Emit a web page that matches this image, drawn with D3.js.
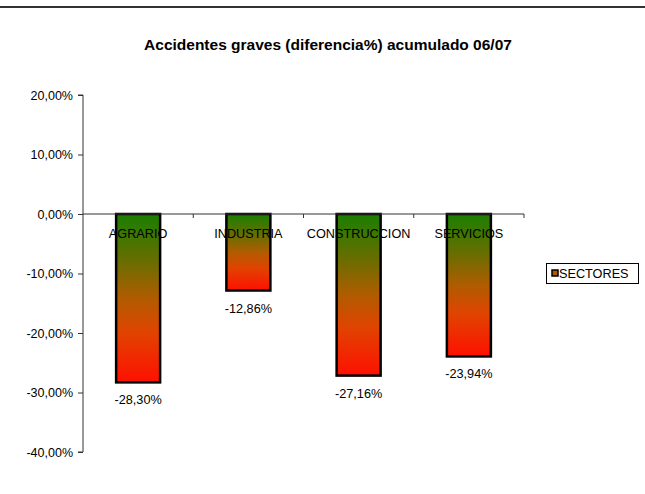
<!DOCTYPE html>
<html><head><meta charset="utf-8">
<script src="https://cdn.jsdelivr.net/npm/d3@7"></script>
<style>body{margin:0;background:#fff}svg{display:block;font-family:Arial,"Liberation Sans",sans-serif}</style>
</head><body>
<script>
const categories = ["AGRARIO","INDUSTRIA","CONSTRUCCION","SERVICIOS"];
const values = [-28.30,-12.86,-27.16,-23.94];
const yTicks = [20,10,0,-10,-20,-30,-40];
const seriesName = "SECTORES";
const title = "Accidentes graves (diferencia%) acumulado 06/07";

const W=645,H=494;
const svg=d3.select("body").append("svg").attr("width",W).attr("height",H);
const fmt = v => d3.format(".2f")(v).replace("\u2212","-").replace(".",",")+"%";

svg.append("line").attr("x1",0).attr("x2",W).attr("y1",7).attr("y2",7).attr("stroke","#333").attr("stroke-width",2);

svg.append("text").attr("x",328).attr("y",50).attr("text-anchor","middle")
  .attr("font-size",15.5).attr("font-weight","bold").text(title);

const x=d3.scaleBand().domain(categories).range([83,524]).paddingInner(0).paddingOuter(0);
const y=d3.scaleLinear().domain([-40,20]).range([452,95]);

const defs=svg.append("defs");
const g=defs.append("linearGradient").attr("id","grad").attr("x1",0).attr("y1",0).attr("x2",0).attr("y2",1);
[["0%","#1a7f00"],["30%","#6f6c00"],["50%","#b05c00"],["70%","#e04400"],["100%","#ff1000"]]
  .forEach(s=>g.append("stop").attr("offset",s[0]).attr("stop-color",s[1]));

// y axis
const ya=svg.append("g").attr("transform","translate(83,0)")
  .call(d3.axisLeft(y).tickValues(yTicks).tickSize(5).tickFormat(fmt));
ya.select(".domain").attr("stroke","#333").attr("d","M-5,"+y(20)+"H0V"+y(-40)+"H-5");
ya.selectAll(".tick line").attr("stroke","#333");
ya.selectAll("text").attr("font-size",12.5).attr("fill","#000").attr("x",-10).attr("font-family","Arial, Liberation Sans, sans-serif");

const barW=44;
svg.selectAll("rect.bar").data(values).join("rect").attr("class","bar")
  .attr("x",(d,i)=>x(categories[i])+x.bandwidth()/2-barW/2)
  .attr("y",d=>y(Math.max(0,d)))
  .attr("width",barW)
  .attr("height",d=>Math.abs(y(d)-y(0)))
  .attr("fill","url(#grad)").attr("stroke","#000").attr("stroke-width",2.5);

// x axis
const xa=svg.append("g").attr("transform","translate(0,"+y(0)+")");
xa.append("line").attr("x1",83).attr("x2",524).attr("stroke","#333");
const bounds=categories.map(c=>x(c)).concat([x(categories[categories.length-1])+x.bandwidth()]);
xa.selectAll("line.t").data(bounds.slice(1)).join("line").attr("class","t")
  .attr("x1",d=>d).attr("x2",d=>d).attr("y1",0).attr("y2",4).attr("stroke","#333");
xa.selectAll("text").data(categories).join("text")
  .attr("x",d=>x(d)+x.bandwidth()/2).attr("y",24).attr("text-anchor","middle")
  .attr("font-size",12.7).text(d=>d);

svg.selectAll("text.lbl").data(values).join("text").attr("class","lbl")
  .attr("x",(d,i)=>x(categories[i])+x.bandwidth()/2).attr("y",d=>y(d)+22)
  .attr("text-anchor","middle").attr("font-size",12.7).text(d=>fmt(d));

// legend
const lg=svg.append("g");
lg.append("rect").attr("x",546.5).attr("y",263.5).attr("width",92).attr("height",20).attr("fill","#fff").attr("stroke","#000");
lg.append("rect").attr("x",552).attr("y",270).attr("width",6).attr("height",6).attr("fill","#b05a00").attr("stroke","#000").attr("stroke-width",1.5);
lg.append("text").attr("x",559).attr("y",278).attr("font-size",12.7).text(seriesName);
</script>
</body></html>
